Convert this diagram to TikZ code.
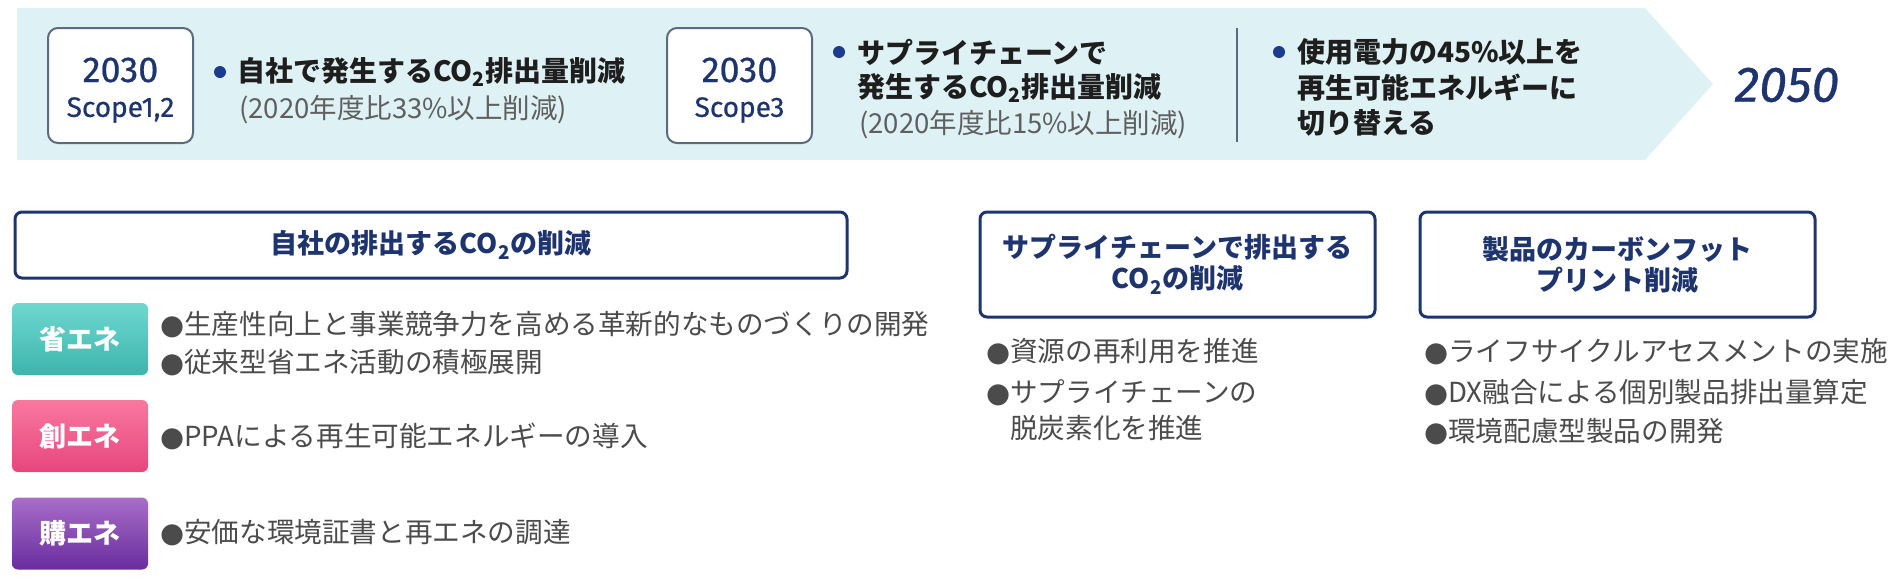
\documentclass[tikz,border=0pt]{standalone}
\usepackage{fontspec}
\setmainfont{Noto Sans CJK JP}
\newfontfamily\numfont{Fira Sans}[FakeBold=0.6]
\newfontfamily\symfont{DejaVu Sans}
\definecolor{cBanner}{RGB}{222,241,244}
\definecolor{cNavy}{RGB}{30,52,110}
\definecolor{cFrame}{RGB}{92,106,128}
\definecolor{cDot}{RGB}{26,60,140}
\definecolor{cInk}{RGB}{30,30,30}
\definecolor{cGray}{RGB}{95,95,95}
\definecolor{cText}{RGB}{75,75,75}
\definecolor{cTealTop}{RGB}{110,216,208}
\definecolor{cTealBot}{RGB}{62,180,172}
\definecolor{cPinkTop}{RGB}{248,120,160}
\definecolor{cPinkBot}{RGB}{232,70,125}
\definecolor{cPurpTop}{RGB}{168,110,200}
\definecolor{cPurpBot}{RGB}{105,45,158}
\newcommand{\cotwo}{CO\textsubscript{2}}
\newcommand{\blackdot}{{\symfont ●}}
\tikzset{
  yearbox/.style={draw=cFrame, line width=2pt, fill=white, rounded corners=10pt, minimum width=145pt, minimum height=115pt},
  yeartext/.style={text=cNavy, inner sep=0pt},
  headbox/.style={draw=cNavy, line width=3pt, fill=white, rounded corners=7pt, align=center, text=cNavy, font=\bfseries\fontsize{27}{31}\selectfont},
  tagbox/.style={rounded corners=6pt, minimum width=136pt, minimum height=72pt, text=white, font=\bfseries\fontsize{27}{27}\selectfont},
  dotmark/.style={circle, fill=cDot, minimum size=12pt, inner sep=0pt},
  leadline/.style={anchor=west, inner sep=0pt, text=cInk, font=\bfseries\fontsize{28}{28}\selectfont},
  noteline/.style={anchor=west, inner sep=0pt, text=cGray, font=\fontsize{27.5}{28}\selectfont},
  itemline/.style={anchor=west, inner sep=0pt, text=cText, font=\fontsize{27.6}{28}\selectfont},
}

\begin{document}
\begin{tikzpicture}[x=1pt,y=-1pt]
    \useasboundingbox (0,0) rectangle (1902,579);
    % banner
    \fill[cBanner] (17,8) -- (1645,8) -- (1713,84) -- (1645,160) -- (17,160) -- cycle;

    \draw (120.5,85.5) node[yearbox] (yrA) {};
    \draw (120.5,70) node[yeartext, font=\numfont\fontsize{36}{36}\selectfont] (yrAnum) {2030};
    \draw (120.5,110) node[yeartext, font=\numfont\fontsize{28}{28}\selectfont] (yrAscope) {Scope1,2};
    \draw (220,72) node[dotmark] (dotA) {};
    \draw (237,72) node[leadline] (goalA) {自社で発生する\cotwo 排出量削減};
    \draw (239,110) node[noteline] (noteA) {(2020年度比33\%以上削減)};

    \draw (739.5,85.5) node[yearbox] (yrB) {};
    \draw (739.5,70) node[yeartext, font=\numfont\fontsize{36}{36}\selectfont] (yrBnum) {2030};
    \draw (739.5,110) node[yeartext, font=\numfont\fontsize{28}{28}\selectfont] (yrBscope) {Scope3};
    \draw (839,52) node[dotmark] (dotB) {};
    \draw (857,52) node[leadline] (goalB1) {サプライチェーンで};
    \draw (857,88) node[leadline] (goalB2) {発生する\cotwo 排出量削減};
    \draw (859,125) node[noteline] (noteB) {(2020年度比15\%以上削減)};

    \draw[cFrame, line width=1.5pt] (1237,28) -- (1237,142);

    \draw (1279,52) node[dotmark] (dotC) {};
    \draw (1297,52) node[leadline] (goalC1) {使用電力の45\%以上を};
    \draw (1297,88) node[leadline] (goalC2) {再生可能エネルギーに};
    \draw (1297,123) node[leadline] (goalC3) {切り替える};

    \draw (1787,85) node[text=cNavy, font=\numfont\itshape\fontsize{50}{50}\selectfont] (goalEnd) {2050};

    % three fields
    \draw (431,245) node[headbox, minimum width=832pt, minimum height=66pt] (ownHead) {自社の排出する\cotwo の削減};
    \draw (1177.5,264.5) node[headbox, minimum width=395pt, minimum height=105pt] (supHead) {サプライチェーンで排出する\\\cotwo の削減};
    \draw (1617.5,264.5) node[headbox, minimum width=395pt, minimum height=105pt] (prdHead) {製品のカーボンフット\\プリント削減};

    \draw (80,339) node[tagbox, top color=cTealTop, bottom color=cTealBot] (tagSave) {省エネ};
    \draw (80,436) node[tagbox, top color=cPinkTop, bottom color=cPinkBot] (tagMake) {創エネ};
    \draw (80,533.5) node[tagbox, top color=cPurpTop, bottom color=cPurpBot] (tagBuy) {購エネ};

    \draw (160,325) node[itemline] (itSave1) {\blackdot 生産性向上と事業競争力を高める革新的なものづくりの開発};
    \draw (160,363) node[itemline] (itSave2) {\blackdot 従来型省エネ活動の積極展開};
    \draw (160,436) node[itemline] (itMake) {\blackdot PPAによる再生可能エネルギーの導入};
    \draw (160,533) node[itemline] (itBuy) {\blackdot 安価な環境証書と再エネの調達};

    \draw (986,352) node[itemline] (itSup1) {\blackdot 資源の再利用を推進};
    \draw (986,393) node[itemline] (itSup2) {\blackdot サプライチェーンの};
    \draw (986,429) node[itemline] (itSup3) {\phantom{\blackdot}脱炭素化を推進};

    \draw (1424,352) node[itemline] (itPrd1) {\blackdot ライフサイクルアセスメントの実施};
    \draw (1424,393) node[itemline] (itPrd2) {\blackdot DX融合による個別製品排出量算定};
    \draw (1424,432) node[itemline] (itPrd3) {\blackdot 環境配慮型製品の開発};
\end{tikzpicture}
\end{document}
